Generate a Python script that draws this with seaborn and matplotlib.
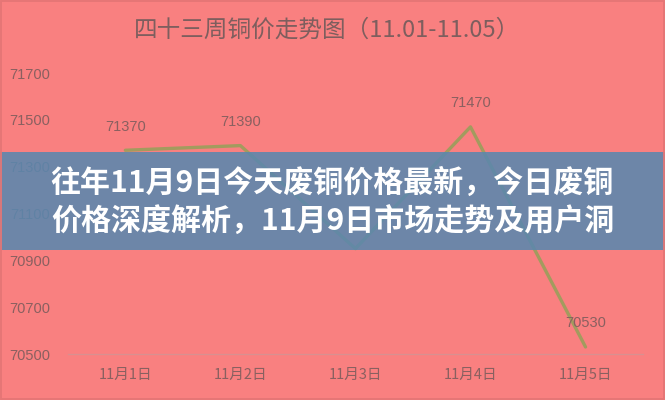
import matplotlib
matplotlib.use("Agg")
import matplotlib.pyplot as plt
from matplotlib.patches import Rectangle
import seaborn as sns
import pandas as pd
import numpy as np

# ---- data ----
dates = ["11月1日", "11月2日", "11月3日", "11月4日", "11月5日"]
prices = [71370, 71390, 70950, 71470, 70530]
labels_shown = ["71370", "71390", "", "71470", "70530"]
y_ticks = [70500, 70700, 70900, 71100, 71300, 71500, 71700]
title = "四十三周铜价走势图（11.01-11.05）"
banner_lines = ["往年11月9日今天废铜价格最新，今日废铜", "价格深度解析，11月9日市场走势及用户洞"]

sns.set_theme(style="white")
plt.rcParams['font.family'] = ['Noto Sans CJK SC', 'DejaVu Sans']

bg = "#F98080"
line_color = "#A39B5E"
tick_color = "#8A6060"

fig = plt.figure(figsize=(6.65, 4), dpi=100)
fig.patch.set_facecolor(bg)
ax = fig.add_axes([0.102, 0.115, 0.865, 0.7025])
ax.set_facecolor(bg)

df = pd.DataFrame({"date": dates, "price": prices})
sns.lineplot(data=df, x="date", y="price", ax=ax, color=line_color, lw=2.4, sort=False)

ax.set_xlim(-0.5, 4.5)
ax.set_ylim(y_ticks[0], y_ticks[-1])
ax.set_yticks(y_ticks)
ax.set_yticklabels([str(t) for t in y_ticks], fontsize=10.5, color=tick_color,
                   family=['Liberation Sans', 'DejaVu Sans'])
ax.set_xticks(range(len(dates)))
ax.set_xticklabels(dates, fontsize=10.5, color=tick_color)
ax.set_xticks(np.arange(-0.5, len(dates), 1.0), minor=True)
ax.tick_params(axis='x', which='major', length=0, pad=10)
ax.tick_params(axis='x', which='minor', length=5, width=0.8, color="#D89090", direction='out')
ax.tick_params(axis='y', length=0, pad=13)
ax.set_xlabel("")
ax.set_ylabel("")
for s in ["top", "right", "left"]:
    ax.spines[s].set_visible(False)
ax.spines["bottom"].set_color("#D89090")
ax.spines["bottom"].set_linewidth(0.9)
ax.grid(False)

for i, (v, lab) in enumerate(zip(prices, labels_shown)):
    if lab:
        ax.annotate(lab, (i, v), xytext=(0, 17), textcoords='offset points',
                    ha='center', va='center', fontsize=10.5, color=tick_color,
                    family=['Liberation Sans', 'DejaVu Sans'])

fig.text(0.492, 0.925, title, ha='center', va='center', fontsize=17, color="#7E5E5E")

# banner
fig.patches.append(Rectangle((0, 0.375), 1, 0.245, transform=fig.transFigure,
                             facecolor="#5A87AE", alpha=0.88, edgecolor='none', zorder=5))
fig.text(0.499, 0.5425, banner_lines[0], ha='center', va='center', fontsize=21.6,
         fontweight='bold', color='white', zorder=6)
fig.text(0.501, 0.445, banner_lines[1], ha='center', va='center', fontsize=21.6,
         fontweight='bold', color='white', zorder=6)

# frame
fig.patches.append(Rectangle((0.002, 0.003), 0.996, 0.994, transform=fig.transFigure,
                             facecolor='none', edgecolor="#E47676", lw=1.3, zorder=7))

fig.savefig("out.png", dpi=100, facecolor=bg)
